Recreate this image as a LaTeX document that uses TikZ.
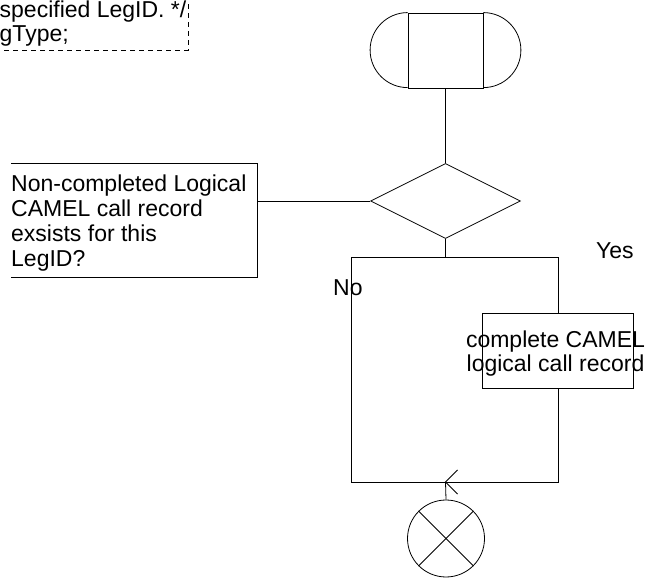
\documentclass[tikz,border=0pt]{standalone}
\usepackage{fontspec}
\setmainfont{Liberation Sans}
\usetikzlibrary{shapes.geometric}

\tikzset{
	flow/.style={line width=0.8pt},
	txt/.style={inner sep=0pt, font=\fontsize{23}{25}\selectfont},
	sdlbox/.style={flow, draw, rectangle, inner sep=0pt},
}

\begin{document}
\begin{tikzpicture}[x=1pt,y=1pt]
		\useasboundingbox (0,0) rectangle (650,578);
		\clip (0,0) rectangle (650,578);
		\draw[flow, dash pattern=on 5pt off 4pt] (-5,528) -- (188,528) -- (188,585);
		\node[txt, anchor=north west, align=left, font=\fontsize{23}{24}\selectfont] (note) at (-0.5,577.5) {specified LegID. */\\gType;};
		\node[sdlbox, minimum width=75pt, minimum height=75pt] (start) at (445.5,527.5) {};
		\draw[flow] (start.north west) arc (90:270:37.5);
		\draw[flow] (start.north east) arc (90:-90:37.5);
		\node[flow, draw, diamond, aspect=2, inner sep=0pt, minimum width=150pt, minimum height=75pt] (dec) at (445.5,377) {};
		\draw[flow] (start.south) -- (dec.north);
		\draw[flow] (11,415) -| (257,301) -- (11,301);
		\coordinate (cmtr) at (257,377);
		\node[txt, anchor=north west, align=left] (cmt) at (11,403.3) {Non-completed Logical\\CAMEL call record\\exsists for this\\LegID?};
		\draw[flow] (dec.west) -- (cmtr);
		\coordinate (split) at (445.5,321);
		\coordinate (nol) at (351,321);
		\coordinate (join) at (445.5,96);
		\node[sdlbox, minimum width=151pt, minimum height=75pt] (proc) at (558,227.5) {};
		\node[txt, anchor=north, align=center, font=\fontsize{23}{24}\selectfont] (proctext) at (555.5,247.8) {complete CAMEL\\logical call record};
		\draw[flow] (dec.south) -- (split);
		\draw[flow] (proc.north) |- (nol) -- (nol |- join) -- (join);
		\draw[flow] (proc.south) |- (join);
		\draw[flow] ([shift={(12,12)}]join) -- (join) -- ([shift={(12,-12)}]join);
		\node[flow, draw, circle, minimum size=77pt, inner sep=0pt] (stop) at (446,39.5) {};
		\draw[flow] (join) -- (stop.north);
		\draw[flow] (stop.north west) -- (stop.south east);
		\draw[flow] (stop.north east) -- (stop.south west);
		\node[txt, anchor=base west] (yes) at (596,319) {Yes};
		\node[txt, anchor=base west] (no) at (333,282) {No};
	\end{tikzpicture}
\end{document}
